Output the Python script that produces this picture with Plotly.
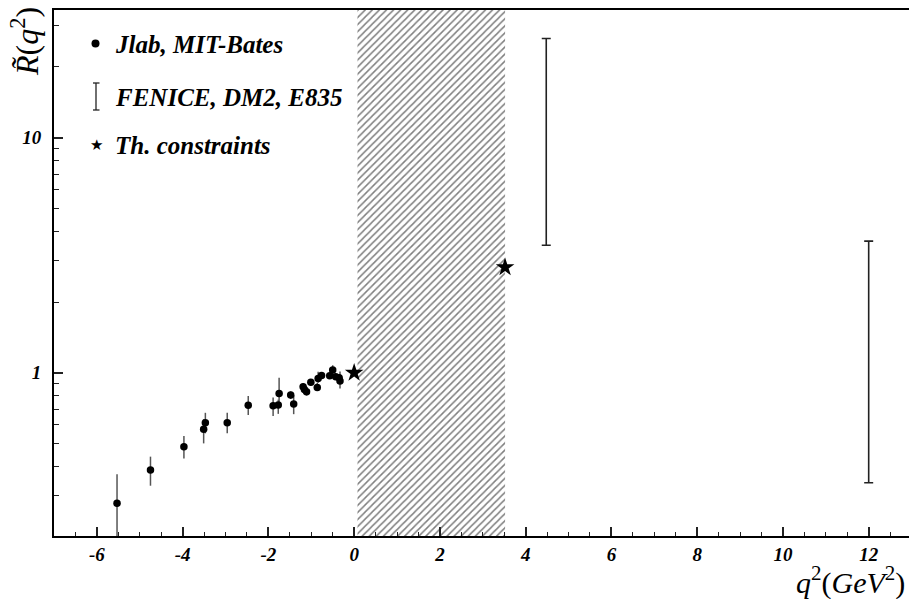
import plotly.graph_objects as go

# ---------------- data ----------------
jlab_q2 = [-5.53, -4.75, -3.97, -3.51, -3.47, -2.96, -2.47, -1.89, -1.77, -1.75,
           -1.48, -1.41, -1.19, -1.16, -1.11, -1.01, -0.86, -0.84, -0.76, -0.57,
           -0.50, -0.43, -0.35, -0.33]
jlab_R = [0.279, 0.386, 0.485, 0.575, 0.613, 0.613, 0.727, 0.724, 0.729, 0.817,
          0.804, 0.736, 0.872, 0.850, 0.830, 0.911, 0.867, 0.947, 0.975, 0.971,
          1.027, 0.962, 0.952, 0.922]
jlab_err_plus = [0.091, 0.054, 0.053, 0.060, 0.063, 0.063, 0.069, 0.062, 0.040, 0.135,
                 0.030, 0.068, 0.030, 0.030, 0.030, 0.030, 0.040, 0.063, 0.030, 0.030,
                 0.050, 0.030, 0.030, 0.090]
jlab_err_minus = [0.090, 0.055, 0.053, 0.074, 0.060, 0.060, 0.066, 0.069, 0.060, 0.100,
                  0.030, 0.069, 0.030, 0.030, 0.030, 0.030, 0.030, 0.040, 0.030, 0.030,
                  0.050, 0.030, 0.030, 0.065]

fenice_q2 = [4.48, 12.0]
fenice_low = [3.49, 0.341]
fenice_high = [26.4, 3.63]

th_q2 = [0.0, 3.52]
th_R = [1.0, 2.81]

unphys_lo = 0.078   # 4 m_pi^2
unphys_hi = 3.52    # 4 M_p^2

x_range = [-7.0, 12.94]
y_log_range = [-0.694, 1.543]

x_major = [-6, -4, -2, 0, 2, 4, 6, 8, 10, 12]
y_major = [1, 10]
y_major_text = ["1", "10"]
y_minor = [0.3, 0.4, 0.5, 0.6, 0.7, 0.8, 0.9, 2, 3, 4, 5, 6, 7, 8, 9, 20, 30]

legend_labels = ["Jlab, MIT-Bates", "FENICE, DM2, E835", "Th. constraints"]

# ---------------- figure ----------------
W, H = 909, 599
ML, MR, MT, MB = 54, 0, 10, 63
PW, PH = W - ML - MR, H - MT - MB

def px(xp):
    return (xp - ML) / PW

def py(yp):
    return (H - MB - yp) / PH

SERIF = "Liberation Serif"

fig = go.Figure()

ylo, yhi = 10 ** y_log_range[0], 10 ** y_log_range[1]
fig.add_trace(go.Scatter(
    x=[unphys_lo, unphys_hi, unphys_hi, unphys_lo, unphys_lo],
    y=[ylo, ylo, yhi, yhi, ylo],
    mode="lines", fill="toself",
    line=dict(width=0, color="rgba(0,0,0,0)"),
    fillcolor="white",
    fillpattern=dict(shape="/", size=5, solidity=0.3, fgcolor="black", bgcolor="white"),
    hoverinfo="skip", showlegend=False,
))

fig.add_trace(go.Scatter(
    x=jlab_q2, y=jlab_R, mode="markers",
    marker=dict(symbol="circle", size=7.5, color="black"),
    error_y=dict(type="data", symmetric=False, array=jlab_err_plus,
                 arrayminus=jlab_err_minus, width=0, thickness=1.5, color="#555"),
    showlegend=False,
))

fen_mid = [(a * b) ** 0.5 for a, b in zip(fenice_low, fenice_high)]
fig.add_trace(go.Scatter(
    x=fenice_q2, y=fen_mid, mode="markers",
    marker=dict(size=1, color="rgba(0,0,0,0)"),
    error_y=dict(type="data", symmetric=False,
                 array=[h - m for h, m in zip(fenice_high, fen_mid)],
                 arrayminus=[m - l for l, m in zip(fenice_low, fen_mid)],
                 width=4.5, thickness=1.6, color="#222"),
    showlegend=False,
))

fig.add_trace(go.Scatter(
    x=th_q2, y=th_R, mode="markers",
    marker=dict(symbol="star", size=14, color="black", line=dict(width=0)),
    showlegend=False,
))

tickfont = dict(family=SERIF, size=19, color="black", weight="bold", style="italic")

fig.update_layout(
    width=W, height=H,
    margin=dict(l=ML, r=MR, t=MT, b=MB),
    paper_bgcolor="white", plot_bgcolor="white",
    xaxis=dict(
        range=x_range, showgrid=False, zeroline=False,
        showline=True, linecolor="black", linewidth=2, mirror=True,
        tickmode="array", tickvals=x_major,
        ticktext=[str(v) for v in x_major],
        ticks="inside", ticklen=9, tickwidth=1.5, tickcolor="#222",
        minor=dict(dtick=0.5, tick0=0, ticks="inside", ticklen=4,
                   tickwidth=1.2, tickcolor="#222", showgrid=False),
        tickfont=tickfont,
    ),
    yaxis=dict(
        type="log", range=y_log_range, showgrid=False, zeroline=False,
        showline=True, linecolor="black", linewidth=2, mirror=False,
        tickmode="array", tickvals=y_major,
        ticktext=y_major_text,
        ticks="inside", ticklen=9, tickwidth=1.5, tickcolor="#222",
        minor=dict(tickmode="array", tickvals=y_minor, ticks="inside", ticklen=5,
                   tickwidth=1.2, tickcolor="#222", showgrid=False),
        tickfont=tickfont, ticklabelstandoff=7,
    ),
)

# axis titles
fig.add_annotation(
    xref="paper", yref="paper", x=px(907), y=py(580), xanchor="right", yanchor="middle",
    text="<i>q</i><sup>2</sup>(<i>GeV</i><sup>2</sup>)", showarrow=False,
    font=dict(family=SERIF, size=30, color="black"),
)
fig.add_annotation(
    xref="paper", yref="paper", x=px(25), y=py(42), xanchor="center", yanchor="middle",
    text="<i>R\u0303</i>(<i>q</i><sup>2</sup>)", showarrow=False, textangle=-90,
    font=dict(family=SERIF, size=32, color="black"),
)

# legend (custom)
leg_font = dict(family=SERIF, size=25, color="black")
leg_y = [45, 97, 145]
for lab, yy in zip(legend_labels, leg_y):
    fig.add_annotation(xref="paper", yref="paper", x=px(113), y=py(yy),
                       xanchor="left", yanchor="middle", showarrow=False,
                       text="<b><i>" + lab + "</i></b>", font=leg_font)
# circle symbol
fig.add_shape(type="circle", xref="paper", yref="paper",
              x0=px(91.5), x1=px(99.5), y0=py(39.5), y1=py(47.5),
              fillcolor="black", line=dict(width=0))
# I-bar symbol
fig.add_shape(type="line", xref="paper", yref="paper", x0=px(96), x1=px(96),
              y0=py(83), y1=py(110), line=dict(color="#222", width=1.3))
for yy in (83, 110):
    fig.add_shape(type="line", xref="paper", yref="paper", x0=px(93), x1=px(99.5),
                  y0=py(yy), y1=py(yy), line=dict(color="#222", width=1.3))
# star symbol
fig.add_annotation(xref="paper", yref="paper", x=px(96.5), y=py(145),
                   xanchor="center", yanchor="middle", showarrow=False,
                   text="\u2605", font=dict(family="DejaVu Sans", size=15, color="black"))

fig.write_html("out.html")
